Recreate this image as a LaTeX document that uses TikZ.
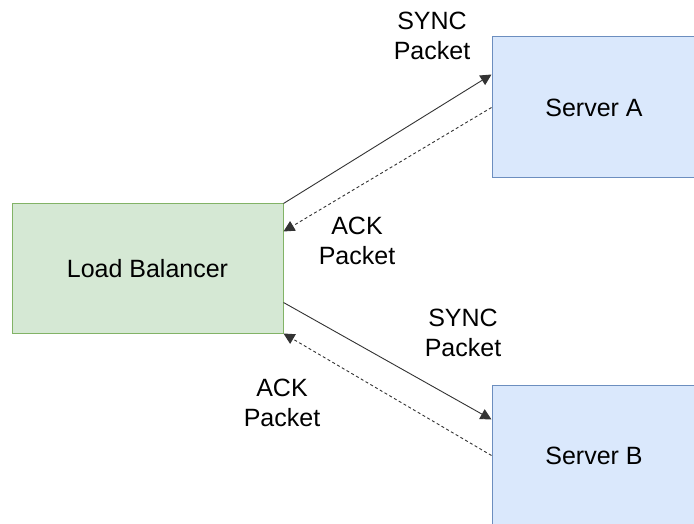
\documentclass[tikz,border=0pt]{standalone}
\usepackage{fontspec}
\setmainfont{Liberation Sans}
\usetikzlibrary{arrows.meta,calc}
\definecolor{lbfill}{HTML}{D5E8D4}
\definecolor{lbline}{HTML}{82B366}
\definecolor{srvfill}{HTML}{DAE8FC}
\definecolor{srvline}{HTML}{6C8EBF}
\definecolor{wire}{HTML}{333333}
\begin{document}
\begin{tikzpicture}[x=1pt,y=-1pt,
  every node/.style={font=\fontsize{25}{29.5}\selectfont},
  lbbox/.style={draw=lbline,fill=lbfill,line width=1pt,minimum width=271pt,minimum height=129pt,inner sep=0pt},
  srvbox/.style={draw=srvline,fill=srvfill,line width=1pt,minimum width=204pt,minimum height=141pt,inner sep=0pt},
  msg/.style={draw=wire,line width=0.9pt,-{Triangle[length=11pt,width=11pt]}},
  reply/.style={msg,dash pattern=on 3pt off 2.5pt},
  lbl/.style={align=center,inner sep=0pt}]
\useasboundingbox (0,0) rectangle (694,524);
\clip (0,0) rectangle (694,524);
\fill[white] (0,0) rectangle (694,524);

\node[lbbox] (lb) at (147.5,268.5) {Load Balancer};
\node[srvbox] (sa) at (594,107.5) {Server A};
\node[srvbox] (sb) at (594,455.5) {Server B};

% handshake with Server A
\draw[msg] (lb.north east) -- ([yshift=33pt]sa.west);
\draw[reply] (sa.west) -- ([yshift=-28pt]lb.north east);
% handshake with Server B
\draw[msg] ([yshift=31pt]lb.south east) -- ([yshift=36pt]sb.west);
\draw[reply] (sb.west) -- (lb.south east);

\node[lbl] (synca) at (432,36) {SYNC\\Packet};
\node[lbl] (acka) at (357,241) {ACK\\Packet};
\node[lbl] (syncb) at (463,333) {SYNC\\Packet};
\node[lbl] (ackb) at (282,403) {ACK\\Packet};
\end{tikzpicture}
\end{document}
